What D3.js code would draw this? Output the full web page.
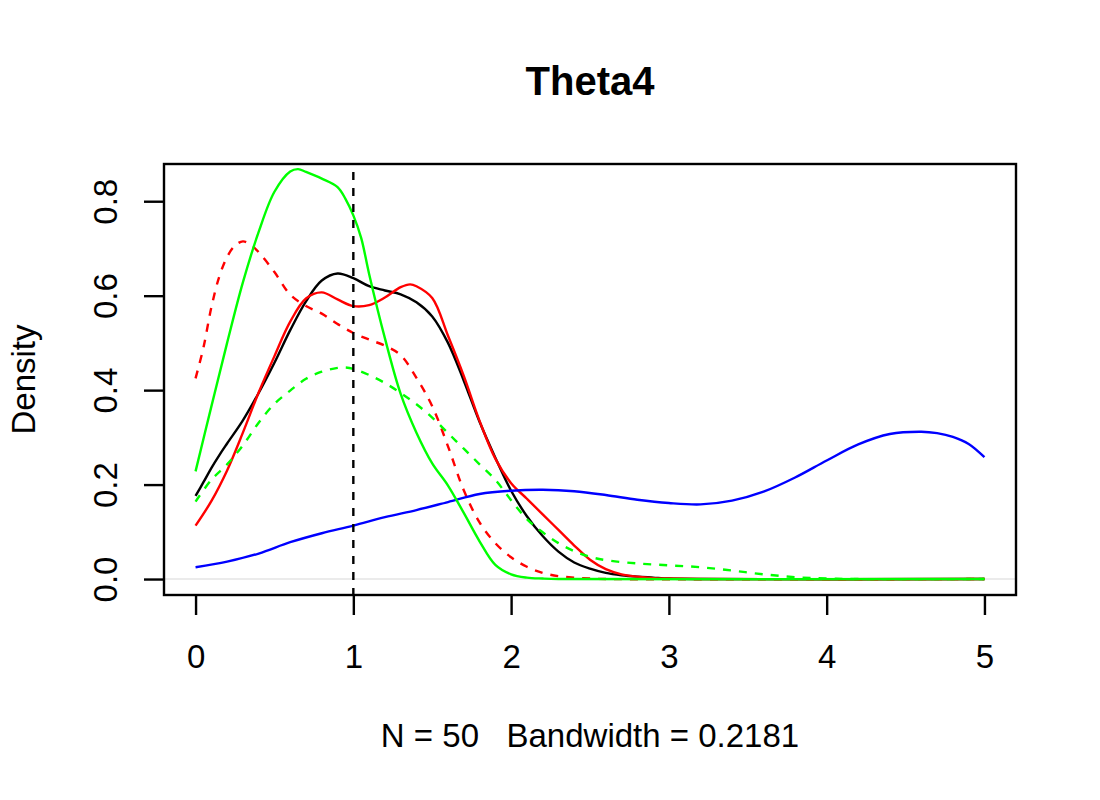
<!DOCTYPE html>
<html>
<head>
<meta charset="utf-8">
<script src="https://cdn.jsdelivr.net/npm/d3@7"></script>
<style>
  html, body { margin: 0; padding: 0; background: #fff; }
  svg { display: block; font-family: "Liberation Sans", Arial, Helvetica, sans-serif; }
  text { white-space: pre; }
</style>
</head>
<body>
<svg id="chart" width="1100" height="800"></svg>
<script>
// ---- data ----
const titleText = "Theta4";
const xLabelText = "N = 50   Bandwidth = 0.2181";
const yLabelText = "Density";
const xTicks = [0, 1, 2, 3, 4, 5];
const yTicks = [0.0, 0.2, 0.4, 0.6, 0.8];
const xLimits = [0, 5];
const yLimits = [0, 0.845];
const refLineX = 1;

const blackX = [0, 0.05, 0.1, 0.15, 0.2, 0.3, 0.4, 0.5, 0.6, 0.7, 0.8, 0.9, 1.0, 1.1, 1.2, 1.3, 1.4, 1.5, 1.6, 1.7, 1.8, 1.9, 2.0, 2.1, 2.2, 2.3, 2.4, 2.5, 2.6, 2.7, 2.8, 2.9, 3.0, 3.2, 5.0];
const blackY = [0.176, 0.205, 0.235, 0.262, 0.287, 0.336, 0.394, 0.458, 0.527, 0.588, 0.632, 0.647, 0.637, 0.620, 0.611, 0.603, 0.586, 0.556, 0.500, 0.42, 0.333, 0.257, 0.187, 0.133, 0.091, 0.058, 0.035, 0.022, 0.013, 0.008, 0.005, 0.003, 0.001, 0, 0];

const redX = [0, 0.1, 0.2, 0.3, 0.4, 0.5, 0.6, 0.7, 0.8, 0.9, 1.0, 1.1, 1.2, 1.3, 1.36, 1.4, 1.5, 1.6, 1.7, 1.8, 1.9, 2.0, 2.1, 2.2, 2.3, 2.4, 2.5, 2.6, 2.7, 2.8, 2.9, 3.0, 3.2, 5.0];
const redY = [0.113, 0.165, 0.230, 0.31, 0.395, 0.472, 0.545, 0.594, 0.607, 0.592, 0.578, 0.580, 0.596, 0.618, 0.624, 0.620, 0.595, 0.515, 0.43, 0.335, 0.255, 0.203, 0.170, 0.137, 0.104, 0.071, 0.041, 0.021, 0.010, 0.005, 0.002, 0.001, 0, 0];

const redDashX = [0, 0.05, 0.1, 0.15, 0.2, 0.25, 0.3, 0.35, 0.4, 0.5, 0.6, 0.7, 0.8, 0.9, 1.0, 1.1, 1.2, 1.3, 1.4, 1.5, 1.6, 1.7, 1.8, 1.9, 2.0, 2.1, 2.2, 2.3, 2.4, 2.5, 2.6, 5.0];
const redDashY = [0.425, 0.49, 0.575, 0.64, 0.682, 0.706, 0.715, 0.708, 0.692, 0.650, 0.602, 0.578, 0.562, 0.540, 0.521, 0.507, 0.494, 0.474, 0.426, 0.366, 0.281, 0.188, 0.12, 0.076, 0.046, 0.026, 0.013, 0.006, 0.003, 0.001, 0, 0];

const greenX = [0, 0.1, 0.2, 0.3, 0.4, 0.5, 0.6, 0.65, 0.7, 0.8, 0.9, 0.95, 1.0, 1.05, 1.1, 1.2, 1.3, 1.4, 1.5, 1.6, 1.7, 1.8, 1.9, 2.0, 2.1, 2.2, 2.3, 5.0];
const greenY = [0.228, 0.365, 0.50, 0.628, 0.735, 0.82, 0.863, 0.868, 0.862, 0.848, 0.83, 0.805, 0.77, 0.722, 0.646, 0.51, 0.392, 0.31, 0.245, 0.198, 0.14, 0.08, 0.03, 0.010, 0.003, 0.001, 0, 0];

const greenDashX = [0, 0.1, 0.2, 0.3, 0.4, 0.5, 0.6, 0.7, 0.8, 0.9, 0.95, 1.0, 1.1, 1.2, 1.3, 1.4, 1.5, 1.6, 1.7, 1.8, 1.9, 2.0, 2.1, 2.2, 2.3, 2.4, 2.5, 2.6, 2.8, 3.0, 3.2, 3.4, 3.6, 3.8, 4.0, 4.2, 5.0];
const greenDashY = [0.164, 0.21, 0.243, 0.283, 0.331, 0.371, 0.399, 0.424, 0.439, 0.447, 0.448, 0.445, 0.432, 0.415, 0.394, 0.37, 0.342, 0.309, 0.276, 0.243, 0.21, 0.167, 0.127, 0.099, 0.076, 0.059, 0.047, 0.040, 0.033, 0.029, 0.025, 0.018, 0.010, 0.004, 0.001, 0, 0];

const blueX = [0, 0.2, 0.4, 0.6, 0.8, 1.0, 1.2, 1.4, 1.6, 1.8, 2.0, 2.2, 2.4, 2.6, 2.8, 3.0, 3.2, 3.4, 3.6, 3.8, 4.0, 4.2, 4.4, 4.6, 4.7, 4.8, 4.9, 5.0];
const blueY = [0.025, 0.037, 0.054, 0.078, 0.097, 0.113, 0.131, 0.146, 0.163, 0.180, 0.187, 0.189, 0.186, 0.178, 0.168, 0.161, 0.158, 0.166, 0.185, 0.215, 0.251, 0.285, 0.307, 0.312, 0.309, 0.301, 0.286, 0.258];

const seriesList = [
  { xs: blackX, ys: blackY, color: "#000000", dashed: false },
  { xs: redX, ys: redY, color: "#ff0000", dashed: false },
  { xs: redDashX, ys: redDashY, color: "#ff0000", dashed: true },
  { xs: blueX, ys: blueY, color: "#0000ff", dashed: false },
  { xs: greenX, ys: greenY, color: "#00ff00", dashed: false },
  { xs: greenDashX, ys: greenDashY, color: "#00ff00", dashed: true }
];

// ---- layout ----
const plot = { left: 164, right: 1016, top: 164, bottom: 595 };
const font = 33;
const lw = 2.4;

const svg = d3.select("#chart");

function pad(lim) { const d = lim[1] - lim[0]; return [lim[0] - 0.04 * d, lim[1] + 0.04 * d]; }

const x = d3.scaleLinear().domain(pad(xLimits)).range([plot.left, plot.right]);
const y = d3.scaleLinear().domain(pad(yLimits)).range([plot.bottom, plot.top]);

svg.append("defs").append("clipPath").attr("id", "clip")
  .append("rect").attr("x", plot.left).attr("y", plot.top)
  .attr("width", plot.right - plot.left).attr("height", plot.bottom - plot.top);

const g = svg.append("g").attr("clip-path", "url(#clip)");

// zero line
g.append("line")
  .attr("x1", plot.left).attr("x2", plot.right)
  .attr("y1", y(0)).attr("y2", y(0))
  .attr("stroke", "#e4e4e4").attr("stroke-width", 1.6);

// density curves
const line = d3.line().x(d => x(d[0])).y(d => Math.min(y(d[1]), y(0))).curve(d3.curveCatmullRom.alpha(0.5));
seriesList.forEach(s => {
  const pts = s.xs.map((v, i) => [v, s.ys[i]]);
  g.append("path")
    .attr("d", line(pts))
    .attr("fill", "none")
    .attr("stroke", s.color)
    .attr("stroke-width", lw)
    .attr("stroke-linejoin", "round")
    .attr("stroke-dasharray", s.dashed ? "8,8" : null);
});

// vertical reference line
g.append("line")
  .attr("x1", x(refLineX)).attr("x2", x(refLineX))
  .attr("y1", plot.top).attr("y2", plot.bottom)
  .attr("stroke", "#000").attr("stroke-width", lw)
  .attr("stroke-dasharray", "8,8")
  .attr("stroke-dashoffset", 8);

// box
svg.append("rect")
  .attr("x", plot.left).attr("y", plot.top)
  .attr("width", plot.right - plot.left).attr("height", plot.bottom - plot.top)
  .attr("fill", "none").attr("stroke", "#000").attr("stroke-width", lw);

// x axis
const xAxis = d3.axisBottom(x).tickValues(xTicks).tickFormat(d3.format("d")).tickSize(20).tickSizeOuter(0);
const gx = svg.append("g").attr("transform", `translate(0,${plot.bottom})`).call(xAxis);
gx.select(".domain").remove();
gx.selectAll(".tick line").attr("stroke", "#000").attr("stroke-width", lw);
gx.selectAll(".tick text")
  .attr("y", 73).attr("dy", null)
  .attr("font-size", font).attr("font-family", "Liberation Sans, Arial, sans-serif")
  .attr("fill", "#000");

// y axis
const yAxis = d3.axisLeft(y).tickValues(yTicks).tickFormat(d3.format(".1f")).tickSize(20).tickSizeOuter(0);
const gy = svg.append("g").attr("transform", `translate(${plot.left},0)`).call(yAxis);
gy.select(".domain").remove();
gy.selectAll(".tick line").attr("stroke", "#000").attr("stroke-width", lw);
gy.selectAll(".tick text")
  .attr("x", null).attr("dy", null)
  .attr("text-anchor", "middle")
  .attr("transform", "translate(-47,0) rotate(-90)")
  .attr("font-size", font).attr("font-family", "Liberation Sans, Arial, sans-serif")
  .attr("fill", "#000");

// title
svg.append("text")
  .attr("x", (plot.left + plot.right) / 2).attr("y", 95)
  .attr("text-anchor", "middle").attr("font-size", 40).attr("font-weight", "bold")
  .attr("fill", "#000").text(titleText);

// x label
svg.append("text")
  .attr("x", (plot.left + plot.right) / 2).attr("y", 747)
  .attr("text-anchor", "middle").attr("font-size", font)
  .attr("xml:space", "preserve")
  .attr("fill", "#000").text(xLabelText);

// y label
svg.append("text")
  .attr("transform", `translate(35,${(plot.top + plot.bottom) / 2}) rotate(-90)`)
  .attr("text-anchor", "middle").attr("font-size", font)
  .attr("fill", "#000").text(yLabelText);
</script>
</body>
</html>
